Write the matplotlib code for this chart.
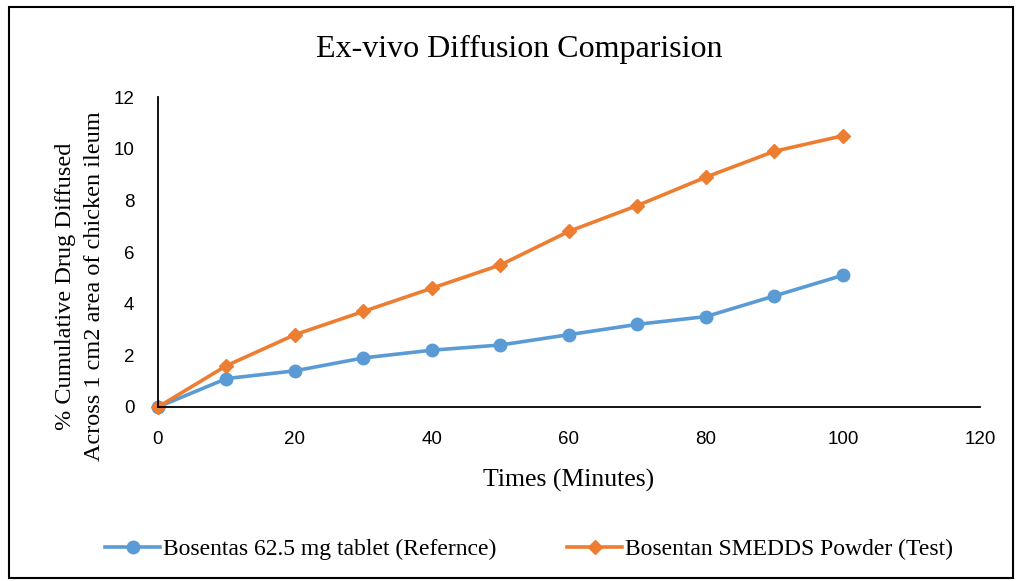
import matplotlib
matplotlib.use("Agg")
import matplotlib.pyplot as plt
from matplotlib.patches import Rectangle

# data
minutes = [0, 10, 20, 30, 40, 50, 60, 70, 80, 90, 100]
reference = [0, 1.1, 1.4, 1.9, 2.2, 2.4, 2.8, 3.2, 3.5, 4.3, 5.1]
test = [0, 1.6, 2.8, 3.7, 4.6, 5.5, 6.8, 7.8, 8.9, 9.9, 10.5]

blue = "#5B9BD5"
orange = "#ED7D31"
serif = "Liberation Serif"

fig = plt.figure(figsize=(10.16, 5.81), dpi=100)
ax = fig.add_axes([0.1555, 0.2995, 0.809, 0.5335])

ax.plot(minutes, reference, color=blue, lw=2.6, marker="o", ms=9,
        label="Bosentas 62.5 mg tablet (Refernce)")
ax.plot(minutes, test, color=orange, lw=2.6, marker="D", ms=7.5,
        label="Bosentan SMEDDS Powder (Test)")

ax.set_xlim(0, 120)
ax.set_ylim(0, 12)
ax.set_xticks(range(0, 121, 20))
ax.set_yticks(range(0, 13, 2))
ax.tick_params(length=0, labelsize=13.5)
ax.tick_params(axis="x", pad=17)
ax.tick_params(axis="y", pad=17)
for lab in ax.get_xticklabels() + ax.get_yticklabels():
    lab.set_family("Liberation Sans")
for s in ["top", "right"]:
    ax.spines[s].set_visible(False)
for s in ["left", "bottom"]:
    ax.spines[s].set_color("black")
    ax.spines[s].set_linewidth(1.3)
for line in ax.lines:
    line.set_clip_on(False)

ax.set_xlabel("Times (Minutes)", family=serif, fontsize=18.5, labelpad=15)
ax.set_ylabel("% Cumulative Drug Diffused\nAcross 1 cm2 area of chicken ileum",
              family=serif, fontsize=17.5, linespacing=1.55)
ax.yaxis.set_label_coords(-0.064, 0.39)
fig.text(0.511, 0.915, "Ex-vivo Diffusion Comparision", family=serif,
         fontsize=23, ha="center", va="center")

fig.legend(loc="center", bbox_to_anchor=(0.521, 0.054), ncol=2, frameon=False,
           prop={"family": serif, "size": 17}, handlelength=2.3,
           columnspacing=3.0, handletextpad=0.15)

fig.patches.append(Rectangle((0.009, 0.005), 0.988, 0.983, transform=fig.transFigure,
                             fill=False, edgecolor="black", lw=1.5))

fig.savefig("out.png", dpi=100)
